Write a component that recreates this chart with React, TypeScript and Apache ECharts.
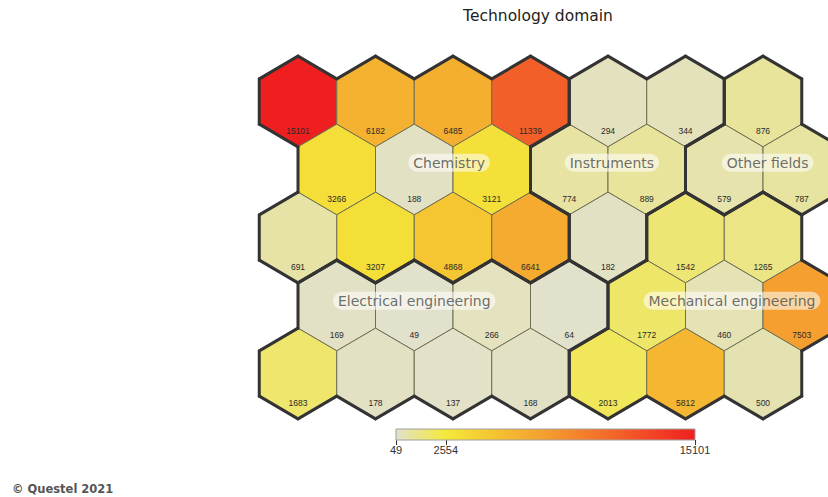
import React, { useEffect, useRef } from 'react';
import * as echarts from 'echarts';

// ---- data ----
const columns = [0, 1, 2, 3, 4, 5, 6];
const rowsIdx = [0, 1, 2, 3, 4];
const cellValues = [
  [15101, 6182, 6485, 11339, 294, 344, 876],
  [3266, 188, 3121, 774, 889, 579, 787],
  [691, 3207, 4868, 6641, 182, 1542, 1265],
  [169, 49, 266, 64, 1772, 460, 7503],
  [1683, 178, 137, 168, 2013, 5812, 500],
];
const domains = ['Chemistry', 'Instruments', 'Other fields', 'Electrical engineering', 'Mechanical engineering'];
const cellDomain = [
  [0, 0, 0, 0, 1, 1, 2],
  [0, 0, 0, 1, 1, 2, 2],
  [0, 0, 0, 0, 1, 4, 4],
  [3, 3, 3, 3, 4, 4, 4],
  [3, 3, 3, 3, 4, 4, 4],
];
const domainLabelPos = [[1.95, 0.9], [4.05, 0.9], [6.06, 0.9], [1.5, 2.93], [5.6, 2.93]];
const colorMin = 49;
const colorMax = 15101;
const colorTicks = [49, 2554, 15101];
const colorRamp = ['#e2e1cc', '#f4e93a', '#f5c231', '#f49e30', '#f4752a', '#f24a26', '#f01f1f'];
const titleText = 'Technology domain';
const copyrightText = '© Questel 2021';

const FONT = "'DejaVu Sans', Verdana, sans-serif";
const NUM_FONT = "'Liberation Sans', Arial, sans-serif";

export default function App() {
  const ref = useRef<HTMLDivElement>(null);
  useEffect(() => {
    if (!ref.current) return;
    const chart = echarts.init(ref.current, undefined, { renderer: 'svg' });

    const hexData: number[][] = [];
    rowsIdx.forEach((r) => {
      columns.forEach((c) => {
        hexData.push([c + (r % 2) * 0.5, r, cellValues[r][c], cellDomain[r][c], r, c]);
      });
    });

    const domainOf = (r: number, c: number) => {
      if (r < 0 || r >= rowsIdx.length || c < 0 || c >= columns.length) return -1;
      return cellDomain[r][c];
    };

    const renderHex = (params: any, api: any) => {
      const x = api.value(0);
      const y = api.value(1);
      const v = api.value(2);
      const d = api.value(3);
      const r = api.value(4);
      const c = api.value(5);
      const [cx, cy] = api.coord([x, y]);
      const sx = api.size([1, 0])[0];
      const sy = api.size([0, 1])[1];
      const hw = sx / 2;
      const R = sy / 1.5;
      const pts = [
        [cx, cy - R],
        [cx + hw, cy - R / 2],
        [cx + hw, cy + R / 2],
        [cx, cy + R],
        [cx - hw, cy + R / 2],
        [cx - hw, cy - R / 2],
      ];
      const odd = r % 2 === 1;
      const nb = odd
        ? [[r - 1, c + 1], [r, c + 1], [r + 1, c + 1], [r + 1, c], [r, c - 1], [r - 1, c]]
        : [[r - 1, c], [r, c + 1], [r + 1, c], [r + 1, c - 1], [r, c - 1], [r - 1, c - 1]];
      const children: any[] = [
        {
          type: 'polygon',
          shape: { points: pts },
          style: { fill: api.visual('color'), stroke: '#6f6f52', lineWidth: 1 },
          z2: 1,
        },
      ];
      for (let i = 0; i < 6; i++) {
        if (domainOf(nb[i][0], nb[i][1]) !== d) {
          const a = pts[i];
          const b = pts[(i + 1) % 6];
          children.push({
            type: 'line',
            shape: { x1: a[0], y1: a[1], x2: b[0], y2: b[1] },
            style: { stroke: '#333333', lineWidth: 3, lineCap: 'round' },
            z2: 10,
          });
        }
      }
      children.push({
        type: 'text',
        x: cx,
        y: cy + R * 0.66,
        style: {
          text: String(v),
          fontSize: 8.5,
          fontFamily: NUM_FONT,
          fill: '#2a2a2a',
          align: 'center',
          verticalAlign: 'middle',
        },
        z2: 5,
      });
      return { type: 'group', children };
    };

    const renderBar = (params: any, api: any) => {
      const p0 = api.coord([api.value(0), 1]);
      const p1 = api.coord([api.value(1), 0]);
      return {
        type: 'rect',
        shape: { x: p0[0], y: p0[1], width: p1[0] - p0[0], height: p1[1] - p0[1] },
        style: {
          fill: new echarts.graphic.LinearGradient(
            0, 0, 1, 0,
            colorRamp.map((col, i) => ({ offset: i / (colorRamp.length - 1), color: col }))
          ),
          stroke: '#a0a0a0',
          lineWidth: 1,
        },
      };
    };

    chart.setOption({
      animation: false,
      backgroundColor: '#ffffff',
      graphic: [
        {
          type: 'text',
          x: 538,
          y: 16,
          style: { text: titleText, fontSize: 15.5, fontFamily: FONT, fill: '#222', align: 'center', verticalAlign: 'middle' },
        },
        {
          type: 'text',
          x: 12,
          y: 489,
          style: { text: copyrightText, fontSize: 11.5, fontWeight: 'bold', fontFamily: FONT, fill: '#555', align: 'left', verticalAlign: 'middle' },
        },
      ],
      grid: [
        { left: 259.25, top: 67.5, width: 565.75, height: 340 },
        { left: 396, top: 429, width: 299, height: 11 },
      ],
      xAxis: [
        { gridIndex: 0, type: 'value', min: -0.5, max: 6.8, show: false },
        {
          gridIndex: 1,
          type: 'value',
          min: colorMin,
          max: colorMax,
          axisLine: { show: false },
          splitLine: { show: false },
          axisTick: { show: true, customValues: colorTicks, length: 5, lineStyle: { color: '#333' } },
          axisLabel: {
            show: true,
            customValues: colorTicks,
            formatter: (v: number) => String(v),
            fontSize: 11,
            color: '#333',
            margin: 4,
            fontFamily: NUM_FONT,
          },
        },
      ],
      yAxis: [
        { gridIndex: 0, type: 'value', min: -0.5, max: 4.5, inverse: true, show: false },
        { gridIndex: 1, type: 'value', min: 0, max: 1, show: false },
      ],
      visualMap: {
        show: false,
        type: 'continuous',
        seriesIndex: 0,
        dimension: 2,
        min: colorMin,
        max: colorMax,
        inRange: { color: colorRamp },
      },
      series: [
        {
          type: 'custom',
          xAxisIndex: 0,
          yAxisIndex: 0,
          renderItem: renderHex,
          data: hexData,
          encode: { x: 0, y: 1 },
          z: 2,
        },
        {
          type: 'scatter',
          xAxisIndex: 0,
          yAxisIndex: 0,
          symbolSize: 0,
          z: 5,
          silent: true,
          data: domains.map((name, i) => ({ name, value: domainLabelPos[i] })),
          label: {
            show: true,
            position: 'inside',
            formatter: (p: any) => p.name,
            fontSize: 14,
            fontFamily: FONT,
            color: '#4a4a4a',
            backgroundColor: 'rgba(255,255,255,0.7)',
            borderRadius: 9,
            padding: [2, 5],
          },
        },
        {
          type: 'custom',
          xAxisIndex: 1,
          yAxisIndex: 1,
          renderItem: renderBar,
          data: [[colorMin, colorMax]],
          encode: { x: [0, 1] },
          silent: true,
        },
      ],
    });
    return () => chart.dispose();
  }, []);
  return (
    <div
      ref={ref}
      style={{ position: 'fixed', left: 0, top: 0, width: 828, height: 497, background: '#fff' }}
    />
  );
}
